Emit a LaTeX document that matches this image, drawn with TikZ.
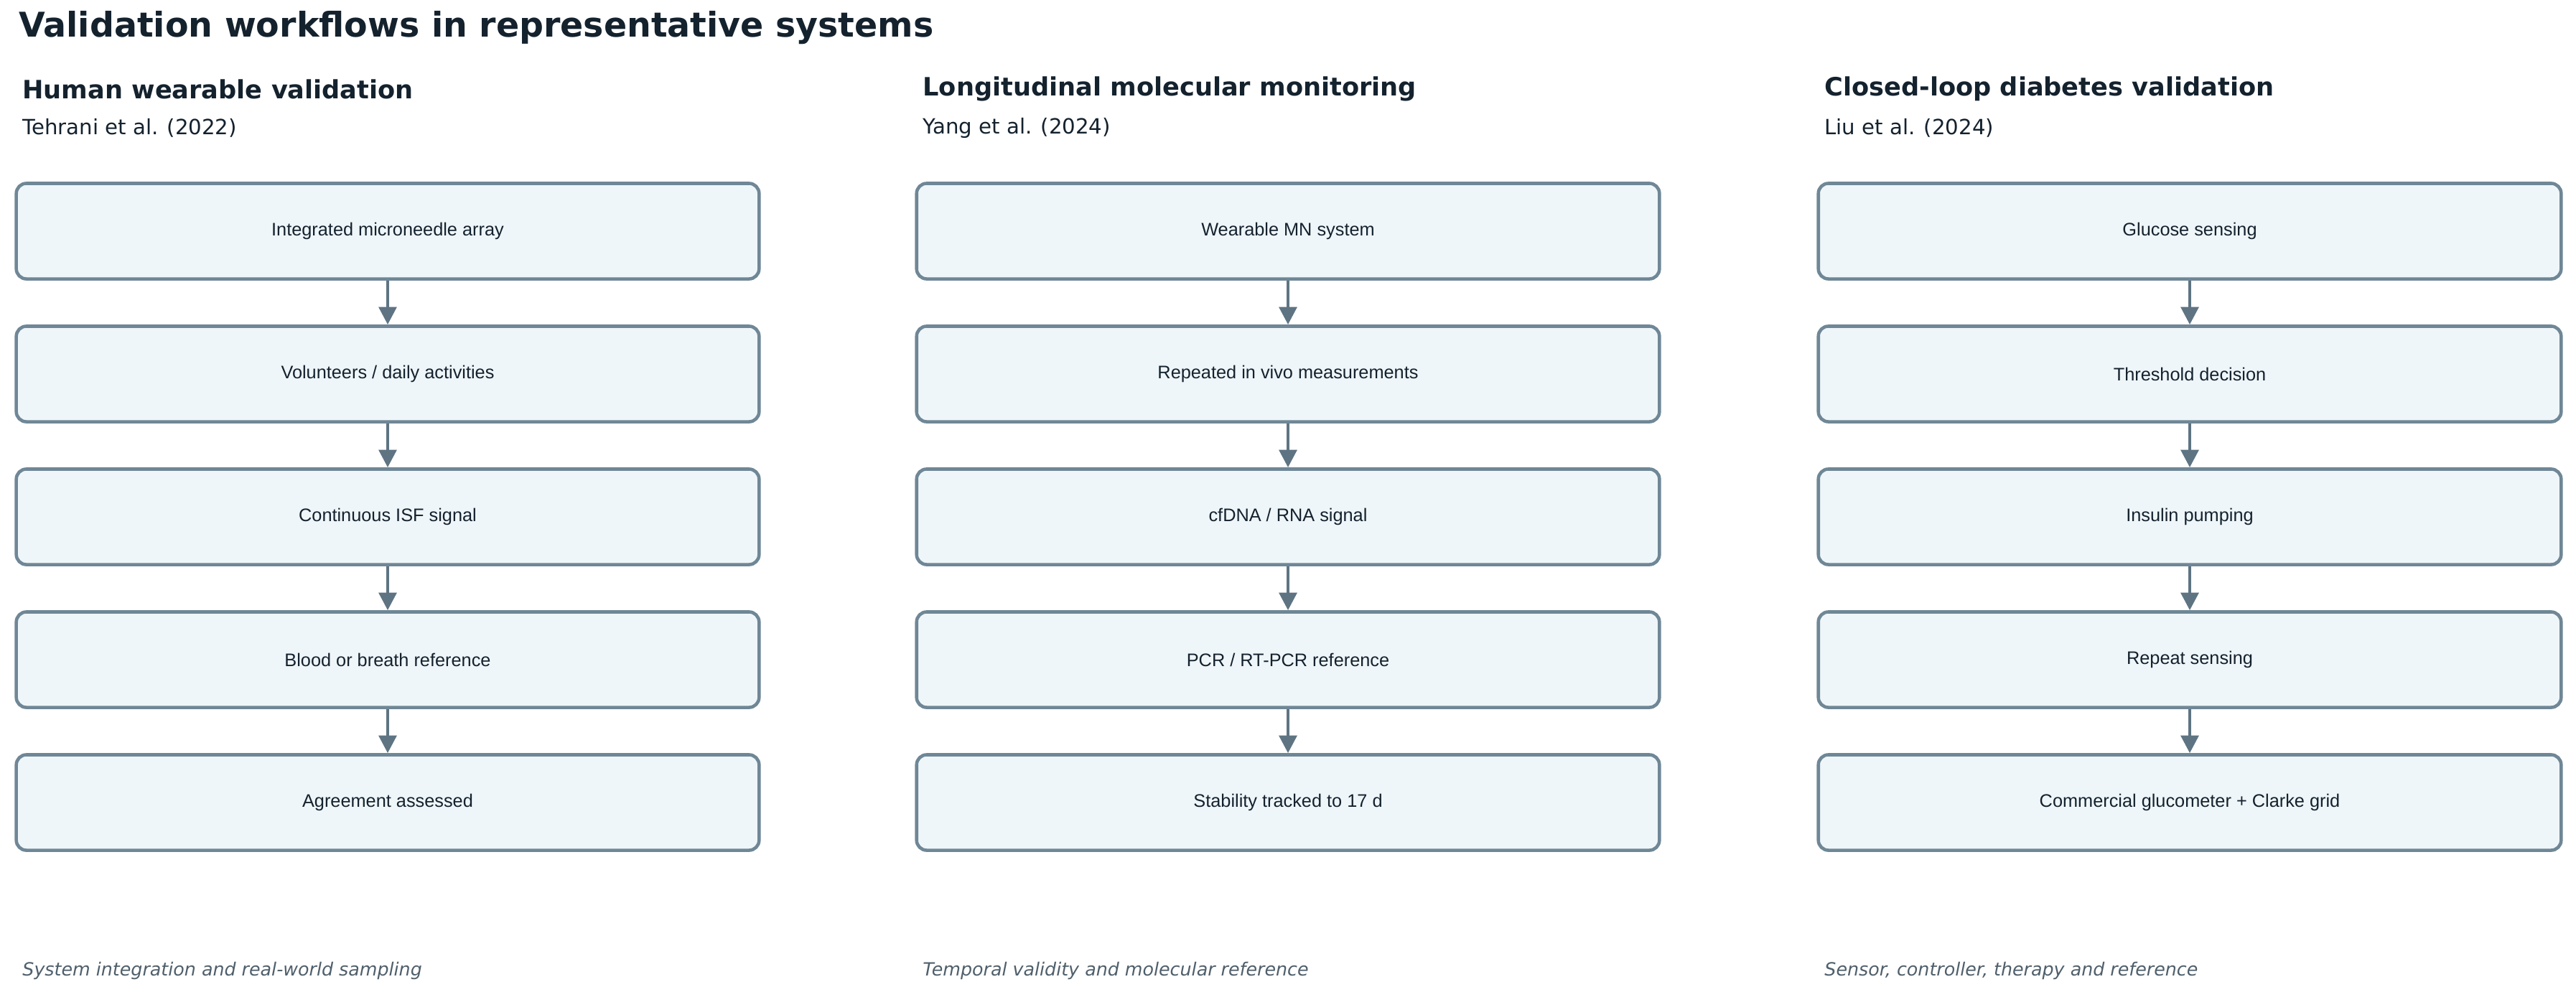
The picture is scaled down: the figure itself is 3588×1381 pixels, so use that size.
\documentclass[tikz,border=0pt]{standalone}
\usepackage{fontspec}
\setmainfont{DejaVu Sans}
\newfontfamily\boxfont{Liberation Sans}
\usetikzlibrary{arrows.meta, positioning}
\definecolor{inkdark}{HTML}{14222E}
\definecolor{boxfill}{HTML}{EFF6F9}
\definecolor{boxline}{HTML}{6F8796}
\definecolor{arrowline}{HTML}{5E7483}
\definecolor{notegray}{HTML}{4F5F6B}

\begin{document}
\begin{tikzpicture}[
    x=0.01cm, y=-0.01cm,
    % Node styles
    stage/.style={
        draw=boxline, fill=boxfill, line width=1.3pt, rounded corners=4pt,
        minimum width=10.34cm, minimum height=1.33cm, inner sep=0pt,
        font=\boxfont\fontsize{7.2}{9}\selectfont, text=inkdark,
      },
    heading/.style={anchor=west, font=\bfseries\fontsize{10}{12}\selectfont, text=inkdark},
    citation/.style={anchor=west, font=\fontsize{8.3}{10}\selectfont, text=inkdark},
    footnote/.style={anchor=west, font=\itshape\fontsize{7.2}{9}\selectfont, text=notegray},
    flow/.style={draw=arrowline, line width=1.3pt, -{Stealth[length=7pt, width=7pt, inset=0pt]}},
  ]
  \useasboundingbox (0,0) rectangle (3588,1381);
  \node[anchor=west, font=\bfseries\fontsize{13.5}{16}\selectfont, text=inkdark] (title) at (14,39)
    {Validation workflows in representative systems};

  % --- three columns ---
  \foreach \col/\x/\head/\cite/\note/\sa/\sb/\sc/\sd/\se in {
      a/23/{Human wearable validation}/{Tehrani et al. (2022)}/{System integration and real-world sampling}/{Integrated microneedle array}/{Volunteers / daily activities}/{Continuous ISF signal}/{Blood or breath reference}/{Agreement assessed},
      b/1277/{Longitudinal molecular monitoring}/{Yang et al. (2024)}/{Temporal validity and molecular reference}/{Wearable MN system}/{Repeated in vivo measurements}/{cfDNA / RNA signal}/{PCR / RT-PCR reference}/{Stability tracked to 17 d},
      c/2533/{Closed-loop diabetes validation}/{Liu et al. (2024)}/{Sensor, controller, therapy and reference}/{Glucose sensing}/{Threshold decision}/{Insulin pumping}/{Repeat sensing}/{Commercial glucometer + Clarke grid}} {
    \node[heading] (\col-head) at (\x-4,124) {\head};
    \node[citation] (\col-cite) at (\x-4,178) {\cite};
    \node[stage] (\col-1) at (\x+517,322) {\sa};
    \node[stage] (\col-2) at (\x+517,521) {\sb};
    \node[stage] (\col-3) at (\x+517,720) {\sc};
    \node[stage] (\col-4) at (\x+517,919) {\sd};
    \node[stage] (\col-5) at (\x+517,1118) {\se};
    \foreach \i [count=\j from 2] in {1,...,4}
      \draw[flow] (\col-\i) -- (\col-\j);
    \node[footnote] (\col-note) at (\x-4,1352) {\note};
  }
\end{tikzpicture}
\end{document}
